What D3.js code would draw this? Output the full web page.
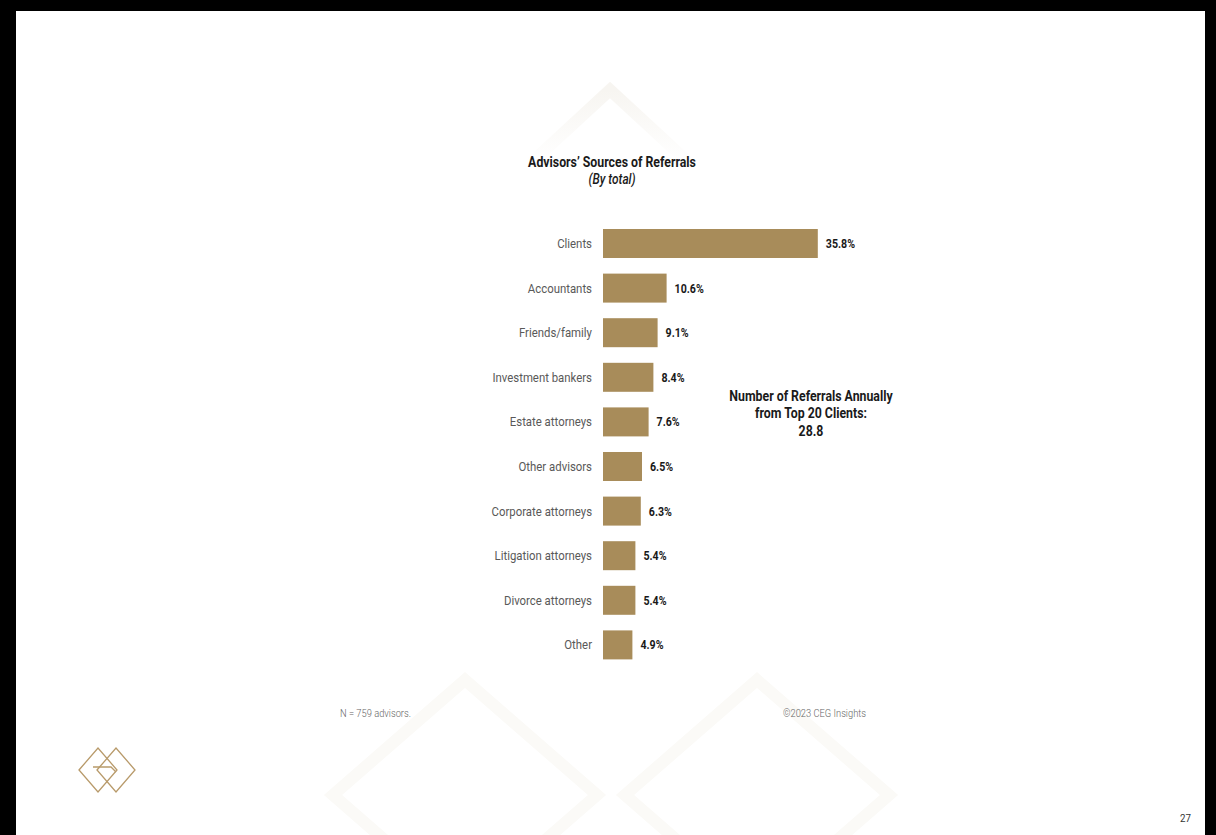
<!DOCTYPE html>
<html>
<head>
<meta charset="utf-8">
<script src="https://cdn.jsdelivr.net/npm/d3@7"></script>
<style>
  html, body { margin: 0; padding: 0; background: #000; }
  svg { display: block; }
  text { font-family: Roboto, "Noto Sans", sans-serif; }
</style>
</head>
<body>
<div id="chart"></div>
<script>
// data
var categories = ["Clients", "Accountants", "Friends/family", "Investment bankers",
  "Estate attorneys", "Other advisors", "Corporate attorneys",
  "Litigation attorneys", "Divorce attorneys", "Other"];
var values = [35.8, 10.6, 9.1, 8.4, 7.6, 6.5, 6.3, 5.4, 5.4, 4.9];
var titleLines = ["Advisors\u2019 Sources of Referrals", "(By total)"];
var noteLines = ["Number of Referrals Annually", "from Top 20 Clients:", "28.8"];
var footLeft = "N = 759 advisors.";
var footRight = "\u00a92023 CEG Insights";
var pageNum = "27";

var width = 1216, height = 835;
var gold = "#a88c5a";
var squeeze = 0.85; // condensed face look

var svg = d3.select("#chart").append("svg")
    .attr("width", width)
    .attr("height", height);

// black frame, white page
svg.append("rect").attr("width", width).attr("height", height).attr("fill", "#000");
svg.append("rect")
    .attr("x", 16).attr("y", 11)
    .attr("width", width - 16 - 11).attr("height", height - 11)
    .attr("fill", "#fff");

// faint diamond watermark
function diamond(cx, cy, hw, hh) {
  return "M" + (cx - hw) + "," + cy + "L" + cx + "," + (cy - hh) +
    "L" + (cx + hw) + "," + cy + "L" + cx + "," + (cy + hh) + "Z";
}
var fade = svg.append("defs").append("linearGradient")
    .attr("id", "fade").attr("x1", 0).attr("y1", 0).attr("x2", 0).attr("y2", 1);
fade.append("stop").attr("offset", "0").attr("stop-color", "#f7f5f1");
fade.append("stop").attr("offset", "0.3").attr("stop-color", "#fff");

var wm = svg.append("g").attr("fill", "none").attr("stroke-width", 12);
wm.append("path").attr("d", diamond(610, 210, 130, 120)).attr("stroke", "url(#fade)");
wm.append("path").attr("d", diamond(465, 795, 132, 115)).attr("stroke", "#fbfaf7");
wm.append("path").attr("d", diamond(757, 795, 132, 115)).attr("stroke", "#fbfaf7");

// text helper, squeezed horizontally
function label(g, x, y, str, opts) {
  var t = g.append("g")
      .attr("transform", "translate(" + x + "," + y + ") scale(" + squeeze + ",1)")
    .append("text")
      .attr("text-anchor", opts.anchor || "start")
      .attr("font-size", opts.size)
      .attr("font-weight", opts.weight || "normal")
      .attr("font-style", opts.style || "normal")
      .attr("fill", opts.color || "#222")
      .text(str);
  return t;
}

// scales
var x = d3.scaleLinear().domain([0, 40]).range([603, 843]);
var y = d3.scaleBand().domain(categories).range([213.4, 675]).padding(0.35);

var chart = svg.append("g");

chart.selectAll("rect.bar")
  .data(values)
  .enter().append("rect")
    .attr("class", "bar")
    .attr("x", x(0))
    .attr("y", function(d, i) { return y(categories[i]); })
    .attr("width", function(d) { return x(d) - x(0); })
    .attr("height", y.bandwidth())
    .attr("fill", gold);

categories.forEach(function(c, i) {
  var cy = y(c) + y.bandwidth() / 2 + 4.5;
  label(chart, x(0) - 11, cy, c, {anchor: "end", size: 13.4, weight: "normal", color: "#595959"});
  label(chart, x(values[i]) + 8, cy, values[i].toFixed(1) + "%",
    {size: 12.5, weight: "bold", color: "#1a1a1a"});
});

// title
label(svg, 612, 167, titleLines[0], {anchor: "middle", size: 14.5, weight: "bold", color: "#1a1a1a"});
label(svg, 612, 184, titleLines[1], {anchor: "middle", size: 14, weight: 500, style: "italic", color: "#1a1a1a"});

// side note
noteLines.forEach(function(s, i) {
  label(svg, 811, 400.5 + i * 17.7, s, {anchor: "middle", size: 14.5, weight: "bold", color: "#1a1a1a"});
});

// footer
label(svg, 340, 717, footLeft, {size: 11, weight: 300, color: "#666"});
label(svg, 866, 717, footRight, {anchor: "end", size: 11, weight: 300, color: "#666"});
label(svg, 1191, 822, pageNum, {anchor: "end", size: 11.5, color: "#333"});

// logo
var logo = svg.append("g").attr("fill", "none").attr("stroke", "#b89a6a").attr("stroke-width", 1.3);
logo.append("path").attr("d", diamond(98, 770, 19, 22));
logo.append("path").attr("d", diamond(116, 770, 19, 22));
logo.append("path").attr("d", "M93,767L111,767L116,772");
</script>
</body>
</html>
